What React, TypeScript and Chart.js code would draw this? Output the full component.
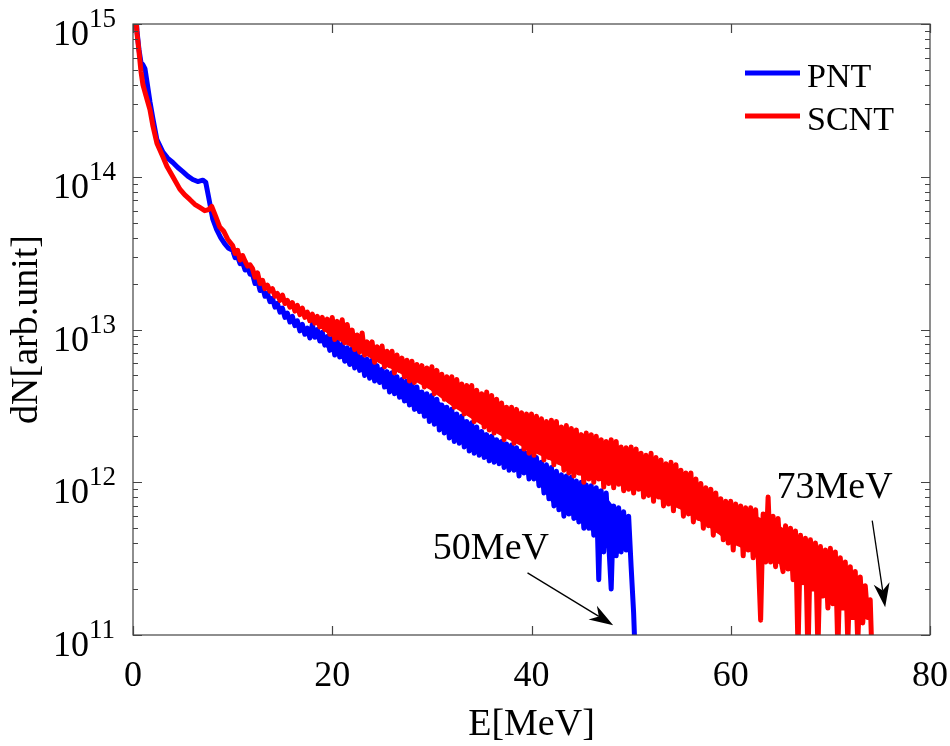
import { useEffect, useRef } from "react"
import { Chart, registerables } from "chart.js"

Chart.register(...registerables)

const FONT = "'Liberation Serif', 'Times New Roman', serif"
const BLUE = "#0000ff"
const RED = "#ff0000"

// Axis ticks
const xTicks = [0, 20, 40, 60, 80]
const yDecades = [11, 12, 13, 14, 15]

// Low-energy part, read point by point (E in MeV)
const pntEarlyE = [0.2, 0.4, 0.6, 0.8, 1.0, 1.2, 1.4, 1.7, 2.0, 2.4, 3.0, 3.5, 4.0, 4.5, 5.0, 5.5, 6.0, 6.5, 7.0, 7.3, 7.6, 8.0, 8.4, 8.8, 9.2, 9.6]
const pntEarly = [1.4e15, 9.0e14, 6.8e14, 5.6e14, 5.4e14, 5.1e14, 4.2e14, 3.1e14, 2.4e14, 1.75e14, 1.45e14, 1.32e14, 1.24e14, 1.15e14, 1.08e14, 1.01e14, 9.6e13, 9.3e13, 9.5e13, 9.2e13, 7.3e13, 5.3e13, 4.5e13, 4.0e13, 3.65e13, 3.4e13]

const scntEarlyE = [0.2, 0.4, 0.6, 0.8, 1.0, 1.3, 1.7, 2.0, 2.4, 3.0, 3.4, 4.0, 4.7, 5.2, 5.7, 6.2, 6.7, 7.2, 7.6, 7.9, 8.3, 8.7, 9.1, 9.5]
const scntEarly = [1.4e15, 8.7e14, 6.6e14, 4.9e14, 4.0e14, 3.4e14, 2.75e14, 2.15e14, 1.66e14, 1.35e14, 1.17e14, 1.0e14, 8.3e13, 7.6e13, 7.1e13, 6.6e13, 6.3e13, 6.0e13, 6.1e13, 6.4e13, 5.5e13, 4.7e13, 4.4e13, 3.9e13]

// Noisy tail, sampled every 0.25 MeV from 10 MeV (one row = 2 MeV)
const TAIL_START = 10
const TAIL_STEP = 0.25

const pntTail = [
  3.3e13, 2.95e13, 3.0e13, 2.7e13, 2.75e13, 2.45e13, 2.55e13, 2.3e13,
  2.3e13, 2.0e13, 2.1e13, 1.8e13, 1.9e13, 1.65e13, 1.72e13, 1.52e13,
  1.6e13, 1.4e13, 1.48e13, 1.3e13, 1.38e13, 1.2e13, 1.28e13, 1.12e13,
  1.22e13, 1.06e13, 1.14e13, 9.8e12, 1.08e13, 9.3e12, 1.02e13, 8.8e12,
  1.08e13, 8.9e12, 1.0e13, 8.4e12, 9.6e12, 7.9e12, 9.0e12, 7.3e12,
  8.8e12, 6.8e12, 8.4e12, 6.6e12, 8.0e12, 6.2e12, 7.6e12, 5.9e12,
  7.5e12, 5.6e12, 7.1e12, 5.4e12, 6.6e12, 5.0e12, 6.4e12, 4.8e12,
  6.3e12, 4.6e12, 5.8e12, 4.5e12, 5.5e12, 4.2e12, 5.3e12, 3.9e12,
  5.2e12, 3.8e12, 4.9e12, 3.6e12, 4.7e12, 3.4e12, 4.6e12, 3.2e12,
  4.5e12, 3.0e12, 4.2e12, 2.9e12, 3.9e12, 2.7e12, 3.8e12, 2.5e12,
  3.7e12, 2.4e12, 3.5e12, 2.2e12, 3.2e12, 2.1e12, 3.1e12, 1.95e12,
  3.0e12, 1.85e12, 2.8e12, 1.8e12, 2.7e12, 1.7e12, 2.5e12, 1.6e12,
  2.45e12, 1.55e12, 2.3e12, 1.5e12, 2.15e12, 1.45e12, 2.05e12, 1.38e12,
  2.0e12, 1.35e12, 1.9e12, 1.32e12, 1.85e12, 1.25e12, 1.78e12, 1.2e12,
  1.75e12, 1.2e12, 1.68e12, 1.1e12, 1.6e12, 1.15e12, 1.55e12, 1.05e12,
  1.55e12, 1.05e12, 1.45e12, 9.5e11, 1.35e12, 8.5e11, 1.3e12, 7.8e11,
  1.25e12, 7.0e11, 1.18e12, 6.6e11, 1.12e12, 6.0e11, 1.1e12, 6.2e11,
  1.08e12, 5.8e11, 1.02e12, 5.5e11, 1.0e12, 5.0e11, 9.6e11, 5.0e11,
  9.5e11, 4.5e11, 9.2e11, 2.3e11, 8.8e11, 3.5e11, 8.5e11, 4.0e11,
  2.0e11, 7.0e11, 3.3e11, 6.8e11, 3.5e11, 6.4e11, 3.6e11, 6.0e11,
  2.8e11, 1.4e11, 0.5e11,
]

const scntTail = [
  3.55e13, 3.15e13, 3.3e13, 2.85e13, 3.05e13, 2.8e13, 2.6e13, 2.65e13,
  2.5e13, 2.2e13, 2.35e13, 2.0e13, 2.1e13, 1.85e13, 1.95e13, 1.78e13,
  1.85e13, 1.65e13, 1.72e13, 1.55e13, 1.68e13, 1.48e13, 1.55e13, 1.4e13,
  1.5e13, 1.32e13, 1.44e13, 1.25e13, 1.38e13, 1.2e13, 1.3e13, 1.14e13,
  1.26e13, 1.1e13, 1.22e13, 1.04e13, 1.2e13, 1.0e13, 1.17e13, 9.3e12,
  1.2e13, 8.6e12, 1.13e13, 8.9e12, 1.16e13, 8.2e12, 1.08e13, 8.5e12,
  9.9e12, 7.4e12, 9.2e12, 7.1e12, 9.5e12, 6.8e12, 8.3e12, 6.9e12,
  8.3e12, 6.1e12, 7.7e12, 6.3e12, 7.8e12, 5.7e12, 7.2e12, 5.8e12,
  7.2e12, 5.2e12, 6.8e12, 5.4e12, 6.5e12, 4.9e12, 6.3e12, 4.6e12,
  6.2e12, 4.5e12, 5.9e12, 4.7e12, 5.8e12, 4.2e12, 5.6e12, 4.3e12,
  5.7e12, 3.8e12, 5.4e12, 4.0e12, 5.1e12, 3.5e12, 4.9e12, 3.4e12,
  4.9e12, 3.1e12, 4.7e12, 3.3e12, 4.4e12, 2.8e12, 4.3e12, 2.9e12,
  4.3e12, 2.5e12, 4.0e12, 2.6e12, 3.8e12, 2.3e12, 3.9e12, 2.2e12,
  3.7e12, 2.1e12, 3.5e12, 2.2e12, 3.3e12, 1.9e12, 3.1e12, 2.0e12,
  3.1e12, 1.8e12, 3.0e12, 1.95e12, 2.85e12, 1.65e12, 2.8e12, 1.55e12,
  2.8e12, 1.5e12, 2.7e12, 1.6e12, 2.6e12, 1.4e12, 2.5e12, 1.45e12,
  2.55e12, 1.3e12, 2.5e12, 1.35e12, 2.3e12, 1.2e12, 2.35e12, 1.15e12,
  2.25e12, 1.1e12, 2.2e12, 1.15e12, 2.05e12, 1.0e12, 2.1e12, 1.05e12,
  2.05e12, 1.0e12, 2.0e12, 1.05e12, 1.9e12, 9.3e11, 1.85e12, 9.8e11,
  1.9e12, 9.2e11, 1.85e12, 9.7e11, 1.7e12, 8.8e11, 1.68e12, 9.0e11,
  1.7e12, 8.5e11, 1.65e12, 9.0e11, 1.55e12, 8.0e11, 1.5e12, 8.2e11,
  1.55e12, 7.5e11, 1.45e12, 8.0e11, 1.4e12, 7.0e11, 1.32e12, 7.2e11,
  1.35e12, 6.5e11, 1.3e12, 7.0e11, 1.2e12, 6.0e11, 1.15e12, 6.2e11,
  1.15e12, 5.5e11, 1.05e12, 5.8e11, 9.8e11, 5.0e11, 9.2e11, 5.2e11,
  9.0e11, 4.5e11, 8.5e11, 4.8e11, 7.8e11, 4.2e11, 7.5e11, 4.0e11,
  7.5e11, 3.6e11, 7.2e11, 4.0e11, 7.0e11, 3.3e11, 6.8e11, 3.6e11,
  6.8e11, 3.2e11, 6.6e11, 3.4e11, 1.25e11, 6.2e11, 3.0e11, 8.0e11,
  3.0e11, 6.0e11, 2.8e11, 5.8e11, 3.2e11, 2.6e11, 5.2e11, 2.7e11,
  5.0e11, 2.3e11, 4.8e11, 0.8e11, 4.5e11, 2.2e11, 4.3e11, 0.7e11,
  4.2e11, 2.0e11, 4.0e11, 0.8e11, 3.8e11, 1.8e11, 3.6e11, 1.5e11,
  3.7e11, 1.6e11, 3.5e11, 0.8e11, 3.2e11, 1.5e11, 3.0e11, 0.9e11,
  2.8e11, 1.3e11, 2.6e11, 0.9e11, 2.4e11, 1.2e11, 2.1e11, 1.3e11,
  1.7e11, 0.5e11,
]

// Solid core of the noisy band (upper / lower edge)
const pntBandE = [18, 20, 22, 24.8, 27, 29.8, 32, 34.8, 37, 39.8, 42, 45, 47, 48.5, 49.5]
const pntBandHigh = [1.047e13, 8.51e12, 7.24e12, 5.5e12, 4.57e12, 3.72e12, 2.95e12, 2.19e12, 1.86e12, 1.55e12, 1.2e12, 9.77e11, 8.91e11, 6.61e11, 6.03e11]
const pntBandLow = [9.12e12, 7.08e12, 5.75e12, 4.57e12, 3.47e12, 2.57e12, 1.95e12, 1.53e12, 1.32e12, 1.2e12, 7.41e11, 5.5e11, 4.17e11, 3.31e11, 3.72e11]

const scntBandE = [18, 20, 22, 24.8, 26, 28, 29.8, 32, 34.8, 37, 39.8, 42, 44.6, 47, 50, 52.5, 55, 57.5, 60, 62.5, 65, 67.5, 70, 72, 73.5]
const scntBandHigh = [1.23e13, 1.15e13, 9.44e12, 7.36e12, 6.84e12, 5.89e12, 5.45e12, 4.68e12, 3.85e12, 3.24e12, 2.69e12, 2.4e12, 2.09e12, 1.86e12, 1.62e12, 1.35e12, 1.15e12, 8.91e11, 6.92e11, 6.03e11, 5.13e11, 4.17e11, 3.39e11, 2.63e11, 2.0e11]
const scntBandLow = [1.12e13, 8.9e12, 7.59e12, 5.97e12, 5.5e12, 4.68e12, 4.04e12, 3.16e12, 2.41e12, 2.0e12, 1.62e12, 1.38e12, 1.12e12, 1.02e12, 9.33e11, 7.94e11, 6.61e11, 5.25e11, 3.98e11, 3.39e11, 2.88e11, 2.4e11, 1.86e11, 1.48e11, 1.26e11]

// Cut-off annotations (E in MeV, dN)
const annotations = [
  { text: "50MeV", textE: 30.1, textN: 3.15e11, fromE: 39.6, fromN: 2.55e11, toE: 48.2, toN: 1.16e11 },
  { text: "73MeV", textE: 64.6, textN: 7.9e11, fromE: 74.2, fromN: 5.6e11, toE: 75.5, toN: 1.52e11 },
]

function toPoints(earlyE: number[], early: number[], tail: number[]) {
  const pts = earlyE.map((e, i) => ({ x: e, y: early[i] }))
  tail.forEach((v, i) => pts.push({ x: TAIL_START + i * TAIL_STEP, y: v }))
  return pts
}

function pairs(xs: number[], ys: number[]) {
  return xs.map((x, i) => ({ x, y: ys[i] }))
}

function bandEdge(xs: number[], ys: number[], color: string, order: number, fill: any) {
  return {
    label: "",
    data: pairs(xs, ys),
    borderWidth: 0,
    borderColor: color,
    backgroundColor: color,
    pointRadius: 0,
    fill,
    order,
  }
}

function drawArrow(ctx: CanvasRenderingContext2D, x0: number, y0: number, x1: number, y1: number) {
  const len = Math.hypot(x1 - x0, y1 - y0)
  const ux = (x1 - x0) / len
  const uy = (y1 - y0) / len
  const head = 24
  const half = 8
  const notchX = x1 - ux * head * 0.7
  const notchY = y1 - uy * head * 0.7
  ctx.beginPath()
  ctx.moveTo(x0, y0)
  ctx.lineTo(notchX, notchY)
  ctx.lineWidth = 1.3
  ctx.stroke()
  ctx.beginPath()
  ctx.moveTo(x1, y1)
  ctx.lineTo(x1 - ux * head - uy * half, y1 - uy * head + ux * half)
  ctx.lineTo(notchX, notchY)
  ctx.lineTo(x1 - ux * head + uy * half, y1 - uy * head - ux * half)
  ctx.closePath()
  ctx.fill()
}

const framePlugin = {
  id: "frame",
  afterDraw(chart: any) {
    const { ctx, chartArea: a } = chart
    const xs = chart.scales.x
    const ys = chart.scales.y
    ctx.save()

    // box
    ctx.strokeStyle = "#444"
    ctx.lineWidth = 1.2
    ctx.strokeRect(a.left, a.top, a.right - a.left, a.bottom - a.top)

    // x ticks (inward, top and bottom)
    ctx.beginPath()
    xTicks.forEach((v) => {
      const px = Math.round(xs.getPixelForValue(v)) + 0.5
      ctx.moveTo(px, a.bottom)
      ctx.lineTo(px, a.bottom - 9)
      ctx.moveTo(px, a.top)
      ctx.lineTo(px, a.top + 9)
    })
    // y ticks (inward, left and right), decades and minors
    yDecades.forEach((k) => {
      for (let m = 1; m <= 9; m++) {
        if (k === yDecades[yDecades.length - 1] && m > 1) break
        const py = Math.round(ys.getPixelForValue(m * Math.pow(10, k))) + 0.5
        const tl = m === 1 ? 9 : 5
        ctx.moveTo(a.left, py)
        ctx.lineTo(a.left + tl, py)
        ctx.moveTo(a.right, py)
        ctx.lineTo(a.right - tl, py)
      }
    })
    ctx.stroke()

    ctx.fillStyle = "#000"
    // x labels
    ctx.font = `36px ${FONT}`
    ctx.textAlign = "center"
    ctx.textBaseline = "alphabetic"
    xTicks.forEach((v) => {
      ctx.fillText(String(v), xs.getPixelForValue(v), a.bottom + 51)
    })
    // y labels 10^k
    yDecades.forEach((k) => {
      const py = ys.getPixelForValue(Math.pow(10, k))
      ctx.font = `36px ${FONT}`
      ctx.textAlign = "right"
      ctx.fillText("10", 89, py + 21)
      ctx.font = `27px ${FONT}`
      ctx.textAlign = "left"
      ctx.fillText(String(k), 89, py + 3)
    })

    // axis titles
    ctx.font = `38px ${FONT}`
    ctx.textAlign = "center"
    ctx.fillText("E[MeV]", (a.left + a.right) / 2, 735)
    ctx.save()
    ctx.translate(37, (a.top + a.bottom) / 2)
    ctx.rotate(-Math.PI / 2)
    ctx.fillText("dN[arb.unit]", 0, 0)
    ctx.restore()

    // legend
    chart.data.datasets
      .filter((ds: any) => ds.label)
      .forEach((ds: any, i: number) => {
        const ly = 73 + i * 43
        ctx.strokeStyle = ds.borderColor
        ctx.lineWidth = 5
        ctx.beginPath()
        ctx.moveTo(745, ly)
        ctx.lineTo(800, ly)
        ctx.stroke()
        ctx.font = `34px ${FONT}`
        ctx.textAlign = "left"
        ctx.fillStyle = "#000"
        ctx.fillText(ds.label, 807, ly + 14)
      })

    // annotations
    ctx.strokeStyle = "#000"
    ctx.fillStyle = "#000"
    annotations.forEach((an) => {
      ctx.font = `38px ${FONT}`
      ctx.textAlign = "left"
      ctx.fillText(an.text, xs.getPixelForValue(an.textE), ys.getPixelForValue(an.textN))
      drawArrow(
        ctx,
        xs.getPixelForValue(an.fromE),
        ys.getPixelForValue(an.fromN),
        xs.getPixelForValue(an.toE),
        ys.getPixelForValue(an.toN)
      )
    })
    ctx.restore()
  },
}

export default function App() {
  const chartRef = useRef<HTMLCanvasElement>(null)
  const chartInstance = useRef<Chart | null>(null)

  useEffect(() => {
    if (!chartRef.current) return
    if (chartInstance.current) chartInstance.current.destroy()
    const ctx = chartRef.current.getContext("2d")
    if (!ctx) return

    chartInstance.current = new Chart(ctx, {
      type: "line",
      data: {
        datasets: [
          bandEdge(pntBandE, pntBandHigh, BLUE, 6, false),
          bandEdge(pntBandE, pntBandLow, BLUE, 5, "-1"),
          {
            label: "PNT",
            data: toPoints(pntEarlyE, pntEarly, pntTail),
            borderColor: BLUE,
            borderWidth: 5,
            borderJoinStyle: "round",
            pointRadius: 0,
            fill: false,
            order: 4,
          },
          bandEdge(scntBandE, scntBandHigh, RED, 3, false),
          bandEdge(scntBandE, scntBandLow, RED, 2, "-1"),
          {
            label: "SCNT",
            data: toPoints(scntEarlyE, scntEarly, scntTail),
            borderColor: RED,
            borderWidth: 5,
            borderJoinStyle: "round",
            pointRadius: 0,
            fill: false,
            order: 1,
          },
        ] as any,
      },
      options: {
        animation: false,
        responsive: true,
        maintainAspectRatio: false,
        layout: { padding: { left: 133, right: 20, top: 24, bottom: 111 } },
        plugins: {
          legend: { display: false },
          tooltip: { enabled: false },
        },
        scales: {
          x: { type: "linear", min: 0, max: 80, display: false },
          y: { type: "logarithmic", min: 1e11, max: 1e15, display: false },
        },
      },
      plugins: [framePlugin],
    })

    return () => {
      if (chartInstance.current) {
        chartInstance.current.destroy()
        chartInstance.current = null
      }
    }
  }, [])

  return (
    <div style={{ position: "absolute", left: 0, top: 0, width: 950, height: 746, background: "#fff" }}>
      <canvas ref={chartRef} aria-label="Proton energy spectrum"></canvas>
    </div>
  )
}
